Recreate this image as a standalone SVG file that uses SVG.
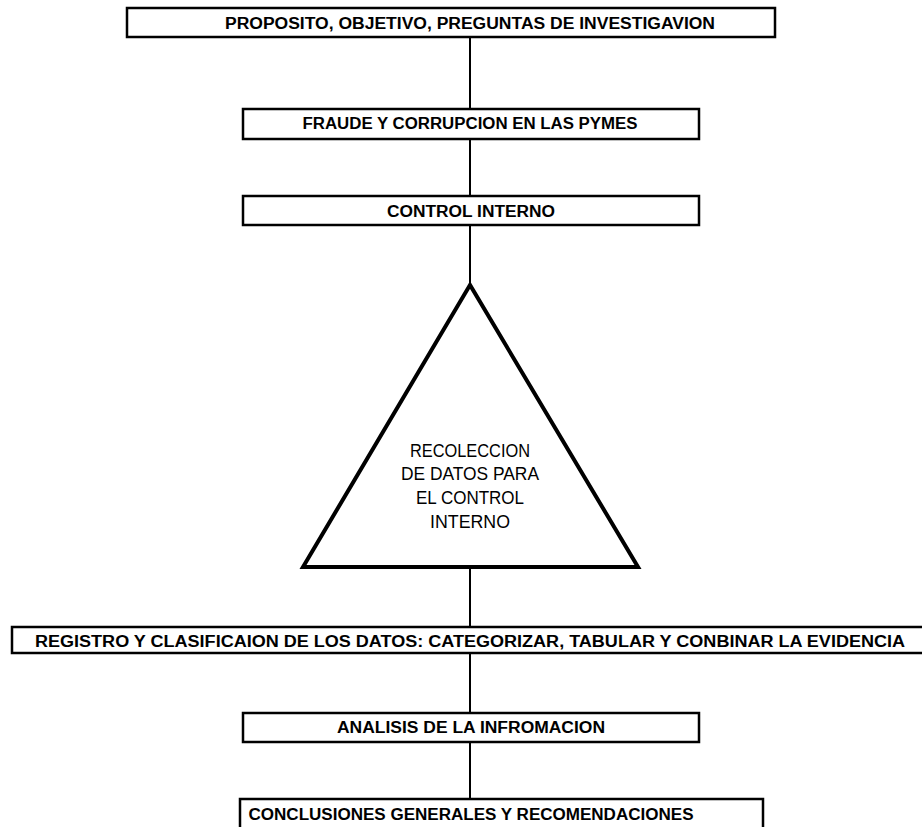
<svg xmlns="http://www.w3.org/2000/svg" width="922" height="827" viewBox="0 0 922 827">
<style>
.box{fill:#fff;stroke:#000;stroke-width:2.5}
.tri{fill:#fff;stroke:#000;stroke-width:4;stroke-linejoin:miter}
.conn{stroke:#000;stroke-width:2;fill:none}
.bt{font-family:"Liberation Sans",Arial,sans-serif;font-weight:bold;font-size:16px;fill:#000;text-anchor:middle}
.tt{font-family:"Liberation Sans",Arial,sans-serif;font-size:18px;fill:#000;text-anchor:middle}
</style>
<rect width="922" height="827" fill="#fff"/>
<g id="connectors">
<line class="conn" x1="470" y1="37" x2="470" y2="109"/>
<line class="conn" x1="470" y1="139" x2="470" y2="196"/>
<line class="conn" x1="470" y1="225" x2="470" y2="285"/>
<line class="conn" x1="470" y1="567" x2="470" y2="627"/>
<line class="conn" x1="470" y1="653" x2="470" y2="713"/>
<line class="conn" x1="470" y1="742" x2="470" y2="799"/>
</g>
<g id="n1">
<rect class="box" x="127" y="8" width="648" height="29"/>
<text class="bt" x="470" y="29" textLength="490" lengthAdjust="spacingAndGlyphs">PROPOSITO, OBJETIVO, PREGUNTAS DE INVESTIGAVION</text>
</g>
<g id="n2">
<rect class="box" x="243" y="109" width="456" height="30"/>
<text class="bt" x="470" y="129" textLength="335" lengthAdjust="spacingAndGlyphs">FRAUDE Y CORRUPCION EN LAS PYMES</text>
</g>
<g id="n3">
<rect class="box" x="243" y="196" width="456" height="29"/>
<text class="bt" x="471" y="217" textLength="168" lengthAdjust="spacingAndGlyphs">CONTROL INTERNO</text>
</g>
<g id="n4">
<polygon class="tri" points="470,285 303,567 638,567"/>
<text class="tt" x="470" y="457" textLength="120" lengthAdjust="spacingAndGlyphs">RECOLECCION</text>
<text class="tt" x="470" y="480" textLength="138" lengthAdjust="spacingAndGlyphs">DE DATOS PARA</text>
<text class="tt" x="470" y="504" textLength="108" lengthAdjust="spacingAndGlyphs">EL CONTROL</text>
<text class="tt" x="470" y="528" textLength="80" lengthAdjust="spacingAndGlyphs">INTERNO</text>
</g>
<g id="n5">
<rect class="box" x="12" y="627" width="920" height="26"/>
<text class="bt" x="470" y="647" textLength="870" lengthAdjust="spacingAndGlyphs">REGISTRO Y CLASIFICAION DE LOS DATOS: CATEGORIZAR, TABULAR Y CONBINAR LA EVIDENCIA</text>
</g>
<g id="n6">
<rect class="box" x="243" y="713" width="456" height="29"/>
<text class="bt" x="471" y="733" textLength="268" lengthAdjust="spacingAndGlyphs">ANALISIS DE LA INFROMACION</text>
</g>
<g id="n7">
<rect class="box" x="240" y="799" width="523" height="40"/>
<text class="bt" x="471" y="820" textLength="445" lengthAdjust="spacingAndGlyphs">CONCLUSIONES GENERALES Y RECOMENDACIONES</text>
</g>
</svg>
